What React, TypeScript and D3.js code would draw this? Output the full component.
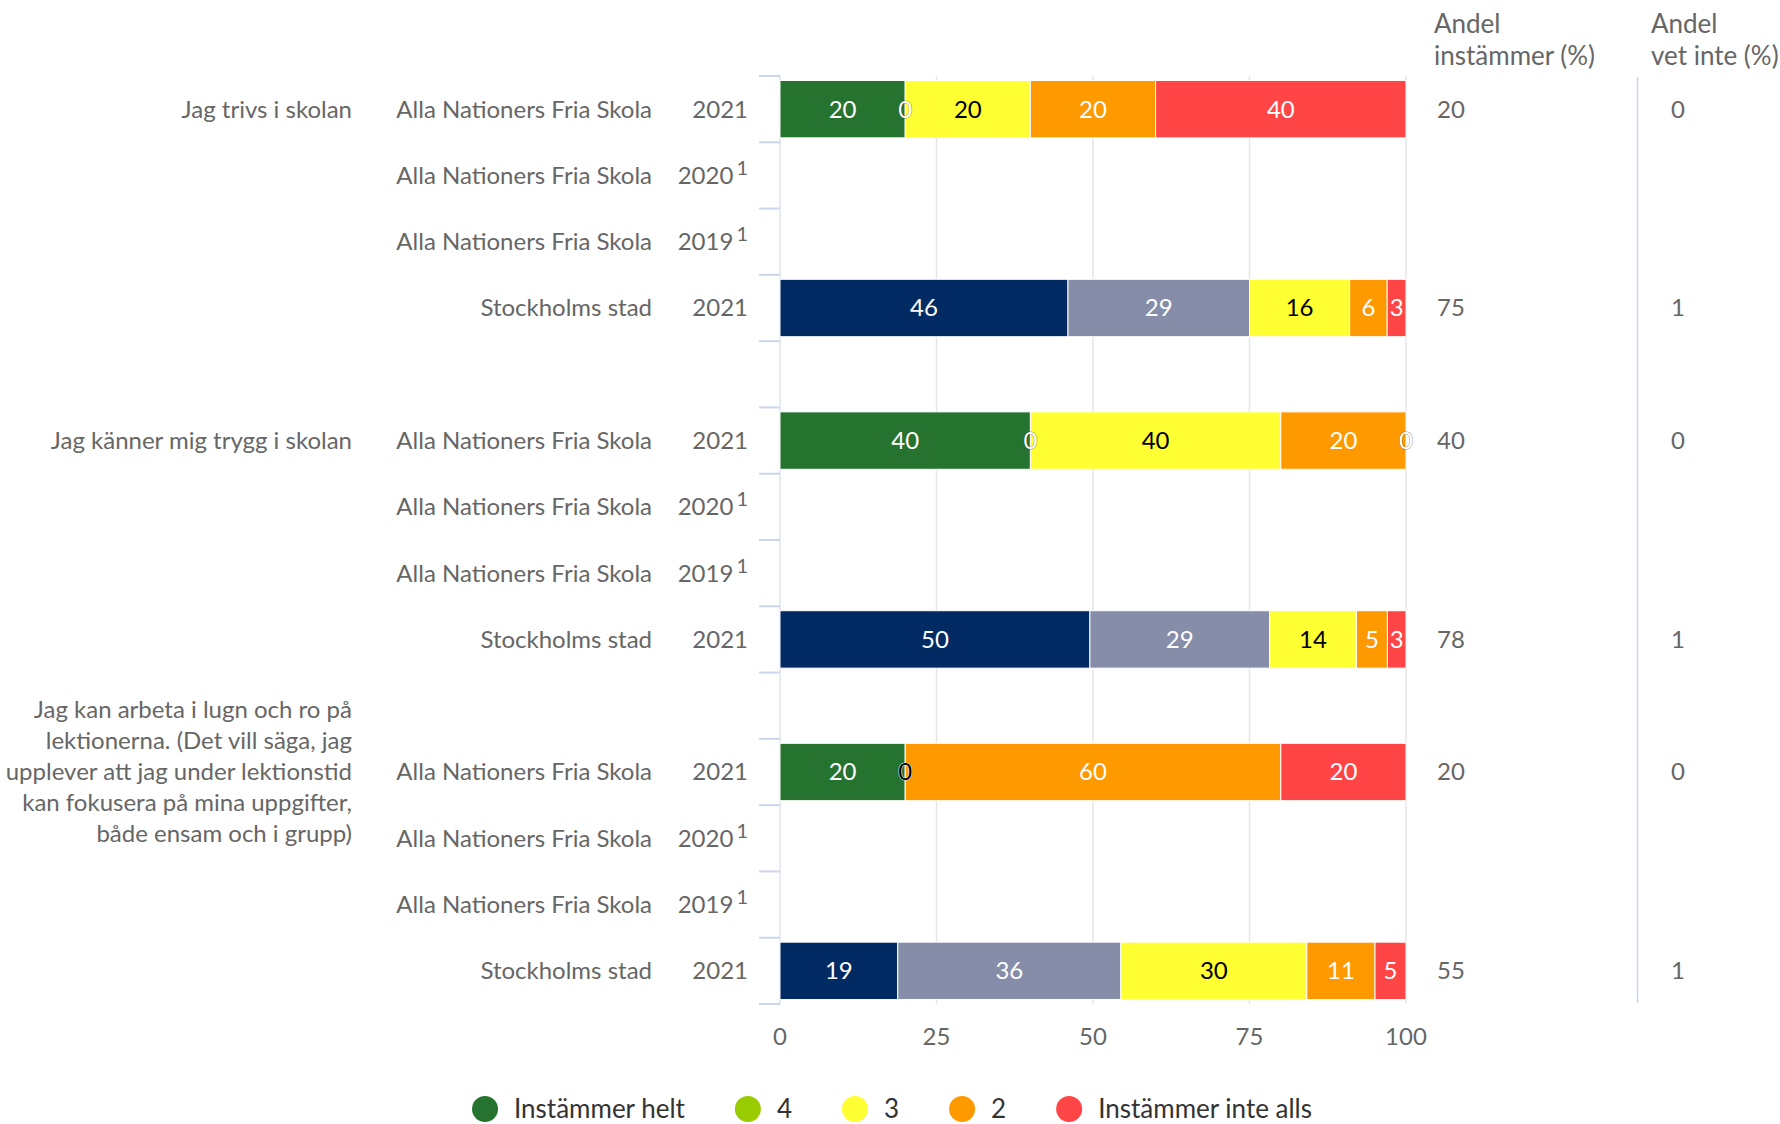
import React, { useEffect, useRef } from "react";
import * as d3 from "d3";

const W = 1780;
const H = 1124;
const FONT = "Lato, 'Noto Sans', sans-serif";

// ---- data ----
const schoolLabels = [
  "Alla Nationers Fria Skola", "Alla Nationers Fria Skola", "Alla Nationers Fria Skola", "Stockholms stad", "",
  "Alla Nationers Fria Skola", "Alla Nationers Fria Skola", "Alla Nationers Fria Skola", "Stockholms stad", "",
  "Alla Nationers Fria Skola", "Alla Nationers Fria Skola", "Alla Nationers Fria Skola", "Stockholms stad",
];
const yearLabels = ["2021", "2020", "2019", "2021", "", "2021", "2020", "2019", "2021", "", "2021", "2020", "2019", "2021"];
const yearNotes = ["", "1", "1", "", "", "", "1", "1", "", "", "", "1", "1", ""];
const isCity = [false, false, false, true, false, false, false, false, true, false, false, false, false, true];

const questionLines = [
  ["Jag trivs i skolan"],
  ["Jag känner mig trygg i skolan"],
  [
    "Jag kan arbeta i lugn och ro på",
    "lektionerna. (Det vill säga, jag",
    "upplever att jag under lektionstid",
    "kan fokusera på mina uppgifter,",
    "både ensam och i grupp)",
  ],
];
const questionRows = [0, 5, 10];

const seriesNames = ["Instämmer helt", "4", "3", "2", "Instämmer inte alls"];
const seriesColors = ["#26732f", "#99cc00", "#ffff33", "#ff9900", "#ff4545"];
const cityColors = ["#022b63", "#858da8", "#ffff33", "#ff9900", "#ff4545"];
const labelColors = ["#ffffff", "#ffffff", "#000000", "#ffffff", "#ffffff"];

const helt = [20, null, null, 46, null, 40, null, null, 50, null, 20, null, null, 19];
const fyra = [0, null, null, 29, null, 0, null, null, 29, null, 0, null, null, 36];
const tre = [20, null, null, 16, null, 40, null, null, 14, null, 0, null, null, 30];
const tva = [20, null, null, 6, null, 20, null, null, 5, null, 60, null, null, 11];
const inteAlls = [40, null, null, 3, null, 0, null, null, 3, null, 20, null, null, 5];
const seriesValues = [helt, fyra, tre, tva, inteAlls];

const andelInstammer = [20, null, null, 75, null, 40, null, null, 78, null, 20, null, null, 55];
const andelVetInte = [0, null, null, 1, null, 0, null, null, 1, null, 0, null, null, 1];

const xTicks = [0, 25, 50, 75, 100];

export default function App() {
  const ref = useRef<SVGSVGElement>(null);

  useEffect(() => {
    const svg = d3.select(ref.current);
    svg.selectAll("*").remove();
    const n = schoolLabels.length;
    const rows = d3.range(n);

    const x = d3.scaleLinear().domain([0, 100]).range([780, 1406]);
    const y = d3.scaleBand<number>().domain(rows).range([76, 1004]).padding(0);
    const step = y.step();
    const barH = step * 0.866;
    const cy = (r: number) => (y(r) as number) + step / 2;

    const fs = 24;
    const grey = "#666666";

    // gridlines
    svg.append("g").selectAll("line").data(xTicks.filter((t) => t > 0)).join("line")
      .attr("x1", (d) => x(d)).attr("x2", (d) => x(d))
      .attr("y1", 76).attr("y2", 1004)
      .attr("stroke", "#e6e6e6").attr("stroke-width", 1.5);

    // separator line for "vet inte"
    svg.append("line").attr("x1", 1637.5).attr("x2", 1637.5).attr("y1", 77).attr("y2", 1003)
      .attr("stroke", "#ccd6eb").attr("stroke-width", 1.5);

    // y axis line + ticks
    svg.append("line").attr("x1", 780).attr("x2", 780).attr("y1", 76).attr("y2", 1004)
      .attr("stroke", "#ccd6eb").attr("stroke-width", 1);
    svg.append("g").selectAll("line").data(d3.range(n + 1)).join("line")
      .attr("x1", 759).attr("x2", 780)
      .attr("y1", (k) => 76 + k * step).attr("y2", (k) => 76 + k * step)
      .attr("stroke", "#ccd6eb").attr("stroke-width", 2);

    // stacked data
    const table = rows.map((r) => {
      const o: any = { row: r };
      seriesValues.forEach((s, i) => (o[i] = s[r] ?? 0));
      return o;
    });
    const keys = seriesValues.map((_, i) => i);
    const stacked = d3.stack<any, number>().keys(keys as any).offset(d3.stackOffsetExpand)(table);

    const barsG = svg.append("g");
    const labelsG = svg.append("g");
    stacked.forEach((layer, si) => {
      layer.forEach((seg, r) => {
        const v = seriesValues[si][r];
        if (v === null || v === undefined) return;
        const x0 = x(seg[0] * 100);
        const x1 = x(seg[1] * 100);
        const color = isCity[r] ? cityColors[si] : seriesColors[si];
        if (v > 0) {
          barsG.append("rect")
            .attr("x", x0).attr("y", cy(r) - barH / 2)
            .attr("width", Math.max(0, x1 - x0)).attr("height", barH)
            .attr("fill", color).attr("stroke", "#ffffff").attr("stroke-width", 1);
        }
        const t = labelsG.append("text")
          .attr("x", (x0 + x1) / 2).attr("y", cy(r)).attr("dy", "0.35em")
          .attr("text-anchor", "middle")
          .attr("font-family", FONT).attr("font-size", fs)
          .attr("fill", labelColors[si])
          .text(String(v));
        if (v === 0) {
          t.attr("stroke", labelColors[si] === "#000000" ? "#ffffff" : "rgba(0,0,0,0.45)")
            .attr("stroke-width", 1).attr("paint-order", "stroke");
        }
      });
    });

    // category labels
    const catG = svg.append("g").attr("font-family", FONT).attr("font-size", fs).attr("fill", grey);
    rows.forEach((r) => {
      if (!schoolLabels[r]) return;
      catG.append("text").attr("x", 652).attr("y", cy(r)).attr("dy", "0.35em")
        .attr("text-anchor", "end").text(schoolLabels[r]);
      const yt = catG.append("text").attr("x", 748).attr("y", cy(r)).attr("dy", "0.35em")
        .attr("text-anchor", "end");
      yt.append("tspan").text(yearLabels[r]);
      if (yearNotes[r]) {
        yt.append("tspan").attr("dx", 3).attr("dy", -9).attr("font-size", 20).text(yearNotes[r]);
      }
    });

    // question labels
    questionLines.forEach((lines, qi) => {
      const c = cy(questionRows[qi]);
      const lh = 31;
      lines.forEach((line, li) => {
        catG.append("text").attr("x", 352)
          .attr("y", c + (li - (lines.length - 1) / 2) * lh).attr("dy", "0.35em")
          .attr("text-anchor", "end").text(line);
      });
    });

    // x axis labels
    catG.append("g").selectAll("text").data(xTicks).join("text")
      .attr("x", (d) => x(d)).attr("y", 1037).attr("dy", "0.35em")
      .attr("text-anchor", "middle").text((d) => String(d));

    // right columns
    const hdr = [
      { x: 1434, lines: ["Andel", "instämmer (%)"] },
      { x: 1651, lines: ["Andel", "vet inte (%)"] },
    ];
    hdr.forEach((h) => {
      h.lines.forEach((l, i) => {
        catG.append("text").attr("x", h.x).attr("y", 33 + i * 32).attr("font-size", 26).text(l);
      });
    });
    rows.forEach((r) => {
      if (andelInstammer[r] !== null) {
        catG.append("text").attr("x", 1437).attr("y", cy(r)).attr("dy", "0.35em").text(String(andelInstammer[r]));
      }
      if (andelVetInte[r] !== null) {
        catG.append("text").attr("x", 1671).attr("y", cy(r)).attr("dy", "0.35em").text(String(andelVetInte[r]));
      }
    });

    // legend
    const lg = svg.append("g").attr("font-family", FONT).attr("font-size", 26).attr("fill", "#333333");
    const ly = 1109;
    const r0 = 13;
    const items = seriesNames.map((name, i) => {
      const g = lg.append("g");
      g.append("circle").attr("r", r0).attr("cy", ly).attr("fill", seriesColors[i]);
      const t = g.append("text").attr("y", ly).attr("dy", "0.35em").text(name);
      const w = (t.node() as SVGTextElement).getComputedTextLength();
      return { g, w };
    });
    const widths = items.map((it) => 2 * r0 + 16 + it.w);
    const gap = 50;
    const total = d3.sum(widths) + gap * (items.length - 1);
    let cx = 892 - total / 2;
    items.forEach((it, i) => {
      it.g.select("circle").attr("cx", cx + r0);
      it.g.select("text").attr("x", cx + 2 * r0 + 16);
      cx += widths[i] + gap;
    });
  }, []);

  return (
    <div style={{ position: "absolute", left: 0, top: 0, width: W, height: H, background: "#ffffff" }}>
      <svg ref={ref} width={W} height={H} style={{ display: "block" }} />
    </div>
  );
}
